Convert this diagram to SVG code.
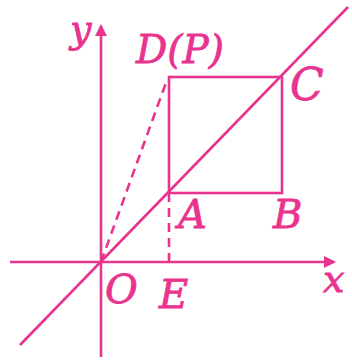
<svg xmlns="http://www.w3.org/2000/svg" width="352" height="361" viewBox="0 0 352 361">
<defs>
<style>
.ln{stroke:#E8348F;stroke-width:2.6;fill:none}
.ds{stroke:#E8348F;stroke-width:2.6;fill:none;stroke-dasharray:9 6}
.t{fill:#E8348F;stroke:#E8348F;stroke-width:0.8;font-family:'DejaVu Serif',serif;font-style:italic;font-size:40px}
</style>
<marker id="ar" markerWidth="12" markerHeight="12" refX="10" refY="6" orient="auto" markerUnits="userSpaceOnUse">
<path d="M0,0 L12,6 L0,12 Z" fill="#E8348F"/>
</marker>
</defs>
<rect width="352" height="361" fill="#fff"/>
<g id="connectors">
<line class="ln" x1="101" y1="357" x2="101" y2="26" marker-end="url(#ar)"/>
<line class="ln" x1="10" y1="262" x2="334" y2="262" marker-end="url(#ar)"/>
<line class="ln" x1="20" y1="345" x2="348" y2="7"/>
<line class="ds" x1="101" y1="262" x2="167" y2="80"/>
<line class="ds" x1="169" y1="193" x2="169" y2="262"/>
</g>
<g id="square">
<rect class="ln" x="169" y="77" width="113" height="116"/>
</g>
<g id="labels">
<text class="t" x="70" y="42" style="font-size:38px">y</text>
<text class="t" x="136" y="63" style="font-size:39px">D(P)</text>
<text class="t" x="290" y="100" style="font-size:44px">C</text>
<text class="t" x="178" y="228">A</text>
<text class="t" x="273" y="228">B</text>
<text class="t" x="105" y="303">O</text>
<text class="t" x="159" y="308">E</text>
<text class="t" x="323" y="292" style="font-size:38px">x</text>
</g>
</svg>
